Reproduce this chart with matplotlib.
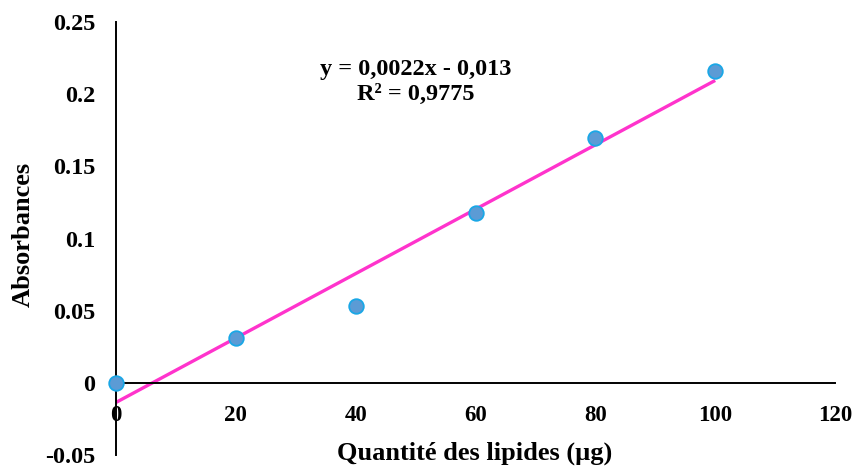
import numpy as np
import matplotlib
matplotlib.use("Agg")
import matplotlib.pyplot as plt

# Lipid calibration data
quantite = [0, 20, 40, 60, 80, 100]          # µg
absorbance = [0.0, 0.031, 0.053, 0.118, 0.170, 0.216]
x_ticks = [0, 20, 40, 60, 80, 100, 120]
y_ticks = [-0.05, 0, 0.05, 0.1, 0.15, 0.2, 0.25]
y_tick_labels = ["-0.05", "0", "0.05", "0.1", "0.15", "0.2", "0.25"]
equation = "y = 0,0022x - 0,013\nR² = 0,9775"

plt.rcParams["font.family"] = ["Liberation Serif", "DejaVu Serif"]
plt.rcParams["font.weight"] = "bold"

fig = plt.figure(figsize=(8.56, 4.70), dpi=100)
ax = fig.add_axes([0.1355, 0.0319, 0.84, 0.9211])

# Linear trend line over the data range
slope, intercept = np.polyfit(quantite, absorbance, 1)
xs = np.array([min(quantite), max(quantite)])
ax.plot(xs, slope * xs + intercept, color="#FF33CC", lw=2.4, zorder=2,
        solid_capstyle="butt")

ax.plot(quantite, absorbance, "o", ms=10.5, mfc="#5B9BD5", mec="#1AA7E6",
        mew=1.3, zorder=3, clip_on=False)

ax.set_xlim(0, 120)
ax.set_ylim(-0.05, 0.25)
ax.set_xticks(x_ticks)
ax.set_yticks(y_ticks)
ax.set_yticklabels(y_tick_labels)

ax.spines["top"].set_visible(False)
ax.spines["right"].set_visible(False)
ax.spines["bottom"].set_position(("data", 0))
ax.spines["left"].set_position(("data", 0))
for s in ("bottom", "left"):
    ax.spines[s].set_linewidth(1.4)
ax.tick_params(axis="x", length=0, labelsize=16.5, pad=16)
ax.tick_params(axis="y", length=0, labelsize=17.5, pad=15)
for lbl in ax.get_xticklabels() + ax.get_yticklabels():
    lbl.set_fontweight("bold")

ax.text(50, 0.2085, equation, ha="center", va="center", fontsize=17.5,
        fontweight="bold", linespacing=1.2)

fig.text(0.555, 0.036, "Quantité des lipides (µg)", ha="center", va="center",
         fontsize=19, fontweight="bold")
fig.text(0.027, 0.502, "Absorbances", ha="center", va="center", rotation=90,
         fontsize=19, fontweight="bold")

fig.savefig("out.png", dpi=100, facecolor="white")
